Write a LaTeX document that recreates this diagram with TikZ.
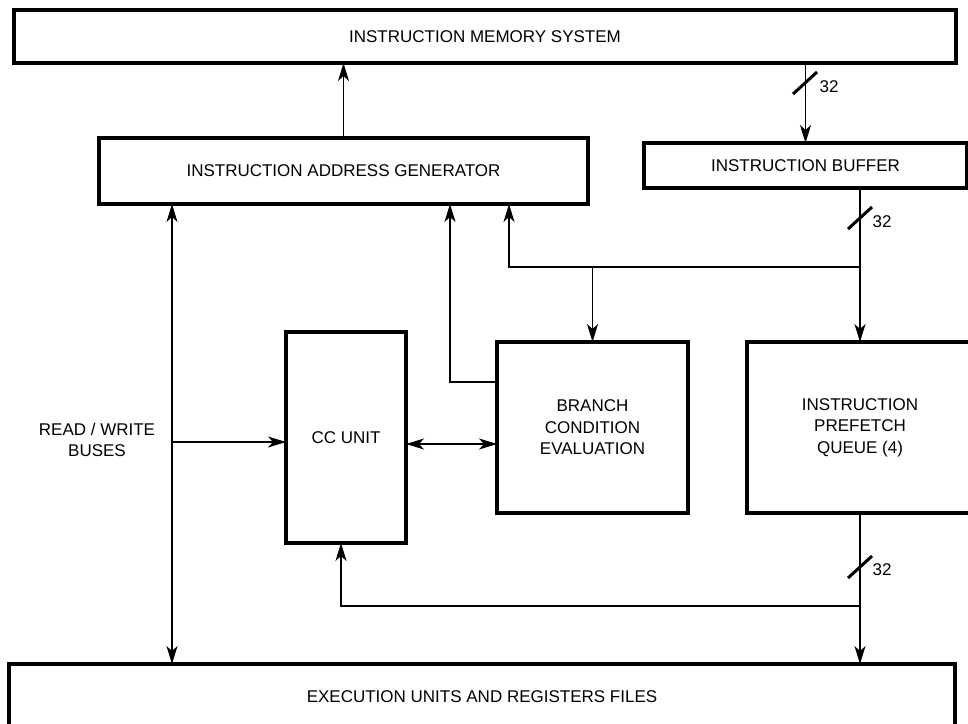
\documentclass[tikz,border=0pt]{standalone}
\usepackage{fontspec}
\setmainfont{Liberation Sans}
\usetikzlibrary{arrows.meta}
\begin{document}
\begin{tikzpicture}[x=1pt,y=-1pt,
  box/.style={draw, line width=3.5pt, inner sep=0pt, outer sep=0pt, align=center,
    font=\fontsize{17}{21.5}\selectfont},
  wire/.style={line width=1.2pt},
  tip/.tip={Stealth[length=18pt,width=11pt,inset=5pt]},
  arr/.style={wire, -tip},
  darr/.style={wire, tip-tip},
  slash/.style={line width=3pt},
  lbl/.style={font=\fontsize{17}{21.5}\selectfont, inner sep=0pt, align=center}]
\useasboundingbox (0,0) rectangle (968,723);
\clip (0,0) rectangle (968,723);

\node[box, minimum width=942pt, minimum height=53pt] (ims) at (485,36.5) {INSTRUCTION MEMORY SYSTEM};
\node[box, minimum width=489pt, minimum height=66pt] (iag) at (343.5,171) {INSTRUCTION ADDRESS GENERATOR};
\node[box, minimum width=323pt, minimum height=45pt] (ib) at (805.5,165.5) {INSTRUCTION BUFFER};
\node[box, minimum width=120pt, minimum height=211pt] (cc) at (346,437.5) {CC UNIT};
\node[box, minimum width=191pt, minimum height=171pt] (bce) at (592.5,427.5) {BRANCH\\CONDITION\\EVALUATION};
\node[box, minimum width=226pt, minimum height=171pt] (ipq) at (860,427.5) {INSTRUCTION\\PREFETCH\\QUEUE (4)};
\node[box, minimum width=946pt, minimum height=66pt] (exec) at (482,697) {EXECUTION UNITS AND REGISTERS FILES};
\node[lbl] (rw) at (97,440) {READ / WRITE\\BUSES};

\coordinate (bus) at (172,0);
\coordinate (j1) at (860,267);
\coordinate (b1) at (509,267);
\coordinate (b2) at (450,382);
\coordinate (j2) at (860,606);
\coordinate (b3) at (341,606);
\coordinate (h1) at (0,442);
\coordinate (h2) at (0,444);

\draw[arr] (iag.north) -- (iag.north |- ims.south);
\draw[arr] (ims.south -| ib.north) -- (ib.north);
\draw[arr] (ib.south -| ipq.north) -- (ipq.north);
\draw[arr] (j1) -- (b1) -- (b1 |- iag.south);
\draw[arr] (bce.north |- j1) -- (bce.north);
\draw[arr] (bce.west |- b2) -- (b2) -- (b2 |- iag.south);
\draw[darr] (bus |- iag.south) -- (bus |- exec.north);
\draw[arr] (bus |- h1) -- (cc.west |- h1);
\draw[darr] (cc.east |- h2) -- (bce.west |- h2);
\draw[arr] (ipq.south) -- (ipq.south |- exec.north);
\draw[arr] (j2) -- (b3) -- (b3 |- cc.south);

\coordinate (s1) at (805,83);
\coordinate (s2) at (860,218);
\coordinate (s3) at (860,567);
\foreach \s in {s1,s2,s3}
  \draw[slash] ([shift={(-12,11)}]\s) -- ([shift={(12,-11)}]\s);
\node[lbl] (n1) at (829,87) {32};
\node[lbl] (n2) at (882,222) {32};
\node[lbl] (n3) at (882,570) {32};
\end{tikzpicture}
\end{document}
